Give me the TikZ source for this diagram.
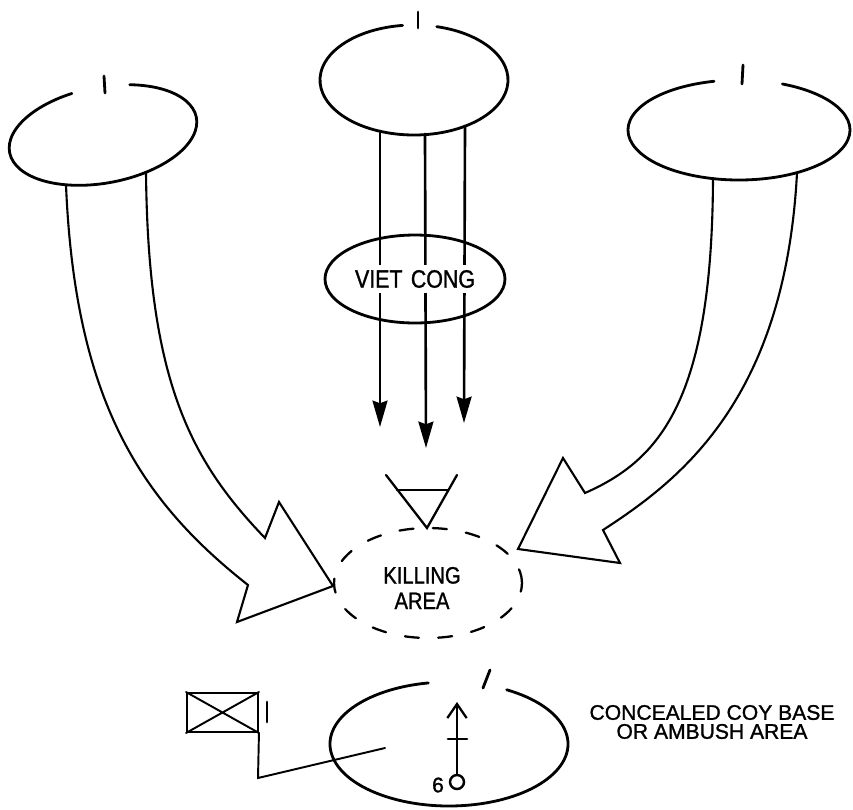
\documentclass[tikz,border=0pt]{standalone}
\usepackage{fontspec}
\setmainfont{Liberation Sans}
\newfontfamily\narrowlet[FakeStretch=0.85,FakeBold=1.2]{Liberation Sans}
\newfontfamily\widelet[FakeBold=1.2]{Liberation Sans}
\usetikzlibrary{arrows.meta,shapes.geometric}
\tikzset{plat/.style={line width=1.6pt},
  tick/.style={line width=1.6pt},
  fat arrow/.style={line width=1.2pt,line join=miter},
  fire/.style={line width=1.5pt,-{Stealth[length=15pt,width=8.5pt,inset=1.5pt]}},
  lettering/.style={font=\narrowlet\fontsize{13.5}{14.5}\selectfont,align=center,inner sep=1pt},
}

\begin{document}
\begin{tikzpicture}[x=0.02cm,y=-0.02cm,line cap=round]
	\useasboundingbox (0,0) rectangle (853,809);
	
	% the three platoons, each ellipse left open under its tick
	\begin{scope}[shift={(103,135)},rotate=10.6]
	\draw[plat] (-68:95 and 48) arc[start angle=-68,end angle=256,x radius=95,y radius=48];
	\end{scope}
	\draw[plat] (414,80) ++(-76:94 and 55) arc[start angle=-76,end angle=263,x radius=94,y radius=55];
	\draw[plat] (739,130) ++(-67:111 and 50) arc[start angle=-67,end angle=257,x radius=111,y radius=50];
	\draw[tick] (104,76) -- (105,93);
	\draw[tick] (418,12) -- (418,28);
	\draw[tick] (743,65) -- (742,84);
	
	\coordinate (s1) at (380,131);
	\coordinate (s2) at (425,134);
	\coordinate (s3) at (465,126);
	\coordinate (t1) at (380,427);
	\coordinate (t2) at (426,448);
	\coordinate (t3) at (464,423);
	
	\node[draw,ellipse,line width=1.6pt,minimum width=3.6cm,minimum height=1.76cm] (vc) at (415,279) {};
	\path[fire]
	(s1) edge (t1)
	(s2) edge (t2)
	(s3) edge (t3);
	\node[lettering,font=\narrowlet\fontsize{14.3}{15}\selectfont,fill=white,inner sep=3pt] (vclabel) at (vc.center) {VIET\,\,CONG};
	
	% flanking platoons swinging in
	\draw[fat arrow] (66,185) .. controls (75,400) and (140,500) .. (248,585) -- (237,622) -- (333,586)
	-- (279,502) -- (265,538) .. controls (190,460) and (148,380) .. (146,172);
	\draw[fat arrow] (713,179) .. controls (712,400) and (660,460) .. (585,493) -- (563,458) -- (518,549)
	-- (620,563) -- (603,530) .. controls (680,480) and (785,400) .. (797,173);
	
	% killing area
	\draw[line width=1.3pt] (386,475) -- (427,528) -- (457,475);
	\draw[line width=1.3pt] (397,490) -- (448,490);
	\node[draw,ellipse,line width=1.3pt,dash pattern=on 8pt off 11pt,minimum width=3.76cm,minimum height=2.2cm] (kill) at (428,583) {};
	\node[lettering] (killlabel) at (422,588) {KILLING\\AREA};
	
	% company base
	\draw[plat] (449,744) ++(-61:119 and 62) arc[start angle=-61,end angle=260,x radius=119,y radius=62];
	\draw[tick] (490,670) -- (483,688);
	\node[draw,circle,line width=1.4pt,minimum size=0.28cm,inner sep=0pt] (mortar) at (457,782) {};
	\coordinate (aim) at (457,702);
	\draw[line width=1.3pt,-{Straight Barb[length=8pt,width=11pt]}] (mortar.north) -- (aim);
	\draw[line width=1.6pt] (448,739) -- (467,739);
	\node[font=\widelet\fontsize{12}{12}\selectfont,inner sep=0pt] (mlabel) at (438,785) {6};
	
	\node[draw,line width=1.1pt,minimum width=1.42cm,minimum height=0.78cm,inner sep=0pt] (hq) at (222.5,712.5) {};
	\draw[line width=1.1pt] (hq.north west) -- (hq.south east) (hq.south west) -- (hq.north east);
	\draw[tick] (267,702) -- (267,722);
	\coordinate (staff) at (258,778);
	\coordinate (post) at (385,748);
	\draw[line width=1.1pt] (hq.south east) -- (staff) -- (post);
	
	\node[font=\widelet\fontsize{12}{10.8}\selectfont,align=center,inner sep=0pt] (baselabel) at (712,722) {CONCEALED COY BASE\\OR AMBUSH AREA};
\end{tikzpicture}
\end{document}
